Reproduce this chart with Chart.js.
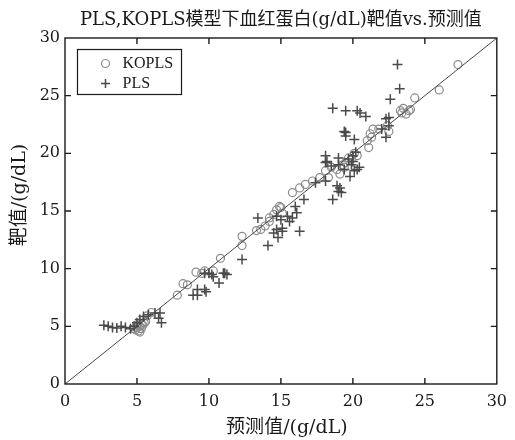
<!DOCTYPE html>
<html lang="zh">
<head>
<meta charset="UTF-8">
<title>PLS, KOPLS 血红蛋白</title>
<style>
    html, body { margin: 0; padding: 0; background: #fff; }
    canvas { display: block; }
</style>
<script src="https://cdn.jsdelivr.net/npm/chart.js"></script>
</head>
<body>
<canvas id="chart" width="515" height="440"></canvas>
<script>
// values
const koplsX = [4.8, 4.9, 5.0, 5.0, 5.1, 5.2, 5.2, 5.3, 5.3, 5.4, 5.5, 5.6, 5.7, 6.0, 7.8, 8.2, 8.5, 9.1, 9.5, 9.7,
    10.3, 10.8, 12.3, 12.3, 13.3, 13.6, 13.9, 14.2, 14.2, 14.5, 14.7, 14.9, 15.0, 15.1, 15.8, 16.3, 16.7, 17.2, 17.7, 18.3,
    18.9, 19.3, 19.7, 20.1, 19.5, 19.9, 20.3, 21.0, 21.1, 21.3, 21.2, 21.4, 22.5, 21.8, 22.4, 23.3, 23.4, 23.5, 23.9, 24.0,
    24.3, 26.0, 27.3, 18.1, 18.5, 19.1, 19.4, 23.7];
const koplsY = [4.8, 4.7, 4.9, 5.1, 4.6, 5.0, 4.5, 4.8, 5.2, 5.1, 5.3, 5.4, 5.9, 6.2, 7.7, 8.7, 8.6, 9.7, 9.6, 9.8,
    9.8, 10.9, 12.8, 12.0, 13.3, 13.4, 13.7, 14.1, 14.4, 14.7, 15.1, 15.4, 15.3, 14.8, 16.6, 17.0, 17.3, 17.6, 17.9, 17.9,
    18.6, 19.0, 19.6, 20.0, 19.2, 19.5, 19.8, 21.1, 20.5, 21.4, 21.7, 22.1, 21.9, 22.1, 22.4, 23.7, 23.5, 23.9, 23.7, 23.8,
    24.8, 25.5, 27.7, 18.5, 18.8, 18.2, 18.8, 23.4];

const plsX = [2.7, 3.0, 3.3, 3.6, 3.9, 4.2, 4.55, 4.8, 5.0, 5.2, 5.45, 5.8, 6.25, 6.6, 6.5, 6.7, 8.9, 9.2, 9.2, 9.7,
    9.8, 9.7, 10.0, 10.2, 10.3, 10.7, 11.0, 11.1, 11.25, 12.3, 14.1, 14.5, 13.4, 14.8, 14.7, 15.1, 15.1, 16.3, 15.6, 15.8,
    15.45, 16.1, 15.0, 14.7, 16.0, 16.6, 17.4, 18.1, 18.6, 18.9, 19.0, 19.2, 19.1, 18.1, 18.1, 18.2, 18.5, 19.0, 19.4, 19.9,
    19.8, 20.1, 20.45, 20.3, 20.0, 20.2, 19.0, 19.7, 20.0, 19.4, 19.5, 19.5, 20.1, 22.0, 22.3, 22.5, 22.3, 22.5, 18.6, 19.5,
    20.3, 20.5, 20.9, 22.6, 23.25, 23.1];
const plsY = [5.1, 5.0, 4.9, 4.85, 5.0, 4.9, 4.8, 5.0, 5.3, 5.6, 5.85, 6.0, 6.15, 6.15, 5.7, 5.3, 7.7, 7.7, 8.2, 8.2,
    8.0, 9.6, 9.6, 9.5, 9.3, 8.75, 9.6, 9.6, 9.5, 10.8, 12.0, 13.1, 14.4, 12.7, 13.4, 13.5, 13.25, 13.25, 14.1, 14.4,
    14.55, 14.85, 14.25, 14.55, 15.4, 16.0, 17.45, 17.6, 16.0, 17.2, 16.7, 16.6, 17.0, 19.8, 19.2, 19.3, 18.9, 19.0, 18.6, 19.0,
    18.0, 18.5, 18.8, 18.6, 19.8, 20.1, 19.6, 19.5, 19.3, 21.9, 21.8, 21.5, 21.2, 22.1, 23.0, 22.4, 21.4, 23.1, 23.9, 23.7,
    23.7, 23.5, 23.2, 24.7, 25.6, 27.7];

// y = x reference line
const diagX = [0, 30];
const diagY = [0, 30];

const axisMin = 0;
const axisMax = 30;
const axisStep = 5;

const seriesNames = ['KOPLS', 'PLS'];
const titleText = 'PLS,KOPLS模型下血红蛋白(g/dL)靶值vs.预测值';
const xTitle = '预测值/(g/dL)';
const yTitle = '靶值/(g/dL)';

const serif = "'DejaVu Serif', 'Noto Sans CJK SC', serif";
const ink = '#1a1a1a';
const circleColor = '#8c8c8c';
const plusColor = '#4a4a4a';

function toPoints(xs, ys) {
    return xs.map((x, i) => ({ x: x, y: ys[i] }));
}

// box round the plot with inward ticks on all four sides
const framePlugin = {
    id: 'frame',
    afterDatasetsDraw(chart) {
        const ctx = chart.ctx;
        const a = chart.chartArea;
        const xs = chart.scales.x, ys = chart.scales.y;
        const len = 6;
        ctx.save();
        ctx.strokeStyle = ink;
        ctx.lineWidth = 1.4;
        ctx.strokeRect(a.left, a.top, a.right - a.left, a.bottom - a.top);
        ctx.beginPath();
        for (let v = axisMin + axisStep; v < axisMax; v += axisStep) {
            const px = xs.getPixelForValue(v);
            ctx.moveTo(px, a.bottom); ctx.lineTo(px, a.bottom - len);
            ctx.moveTo(px, a.top); ctx.lineTo(px, a.top + len);
            const py = ys.getPixelForValue(v);
            ctx.moveTo(a.left, py); ctx.lineTo(a.left + len, py);
            ctx.moveTo(a.right, py); ctx.lineTo(a.right - len, py);
        }
        ctx.stroke();
        ctx.restore();
    }
};

// legend box in the upper left corner of the plot
const legendPlugin = {
    id: 'boxLegend',
    afterDraw(chart) {
        const ctx = chart.ctx;
        const a = chart.chartArea;
        const bx = Math.round(a.left + 12) + 0.5;
        const by = Math.round(a.top + 11) + 0.5;
        const mx = bx + 28;
        const tx = bx + 45;
        ctx.save();
        ctx.fillStyle = '#fff';
        ctx.fillRect(bx, by, 104, 45);
        ctx.strokeStyle = ink;
        ctx.lineWidth = 1.2;
        ctx.strokeRect(bx, by, 104, 45);

        ctx.strokeStyle = circleColor;
        ctx.lineWidth = 1.2;
        ctx.beginPath();
        ctx.arc(mx, by + 14, 4, 0, Math.PI * 2);
        ctx.stroke();

        ctx.strokeStyle = plusColor;
        ctx.lineWidth = 1.5;
        ctx.beginPath();
        ctx.moveTo(mx - 4.5, by + 34); ctx.lineTo(mx + 4.5, by + 34);
        ctx.moveTo(mx, by + 29.5); ctx.lineTo(mx, by + 38.5);
        ctx.stroke();

        ctx.fillStyle = ink;
        ctx.font = "16px 'Liberation Serif', serif";
        ctx.textBaseline = 'middle';
        ctx.fillText(seriesNames[0], tx, by + 14);
        ctx.fillText(seriesNames[1], tx, by + 34);
        ctx.restore();
    }
};

// chart title and axis titles, centred on the plot area like the reference
const textPlugin = {
    id: 'titles',
    afterDraw(chart) {
        const ctx = chart.ctx;
        const a = chart.chartArea;
        const cx = (a.left + a.right) / 2;
        ctx.save();
        ctx.fillStyle = ink;
        ctx.textAlign = 'center';
        ctx.textBaseline = 'middle';
        ctx.font = '18px ' + serif;
        ctx.fillText(titleText, cx, 20);
        ctx.font = '19px ' + serif;
        ctx.fillText(xTitle, cx + 6, 428);
        ctx.translate(20, 195);
        ctx.rotate(-Math.PI / 2);
        ctx.fillText(yTitle, 0, 0);
        ctx.restore();
    }
};

const ctx = document.getElementById('chart').getContext('2d');
const chart = new Chart(ctx, {
    type: 'scatter',
    data: {
        datasets: [
            {
                type: 'line',
                label: 'y = x',
                data: toPoints(diagX, diagY),
                borderColor: '#4a4a4a',
                borderWidth: 1,
                pointRadius: 0,
                fill: false,
                order: 0
            },
            {
                label: seriesNames[1],
                data: toPoints(plsX, plsY),
                pointStyle: 'cross',
                pointRadius: 5,
                borderColor: plusColor,
                borderWidth: 1.5,
                backgroundColor: plusColor,
                order: 1
            },
            {
                label: seriesNames[0],
                data: toPoints(koplsX, koplsY),
                pointStyle: 'circle',
                pointRadius: 4,
                borderColor: circleColor,
                borderWidth: 1.2,
                backgroundColor: 'rgba(0,0,0,0)',
                order: 2
            }
        ]
    },
    options: {
        responsive: false,
        animation: false,
        devicePixelRatio: 1,
        layout: { padding: { left: 0, right: 0, top: 38, bottom: 0 } },
        plugins: {
            legend: { display: false },
            tooltip: { enabled: false },
            title: { display: false }
        },
        scales: {
            x: {
                type: 'linear',
                min: axisMin,
                max: axisMax,
                grid: { display: false, drawTicks: false },
                border: { display: false },
                ticks: {
                    stepSize: axisStep,
                    padding: 8,
                    color: ink,
                    font: { family: serif, size: 16 }
                },
                afterFit(scale) { scale.height = 56; }
            },
            y: {
                type: 'linear',
                min: axisMin,
                max: axisMax,
                grid: { display: false, drawTicks: false },
                border: { display: false },
                ticks: {
                    stepSize: axisStep,
                    padding: 5,
                    color: ink,
                    font: { family: serif, size: 16 }
                },
                afterFit(scale) { scale.width = 65; }
            }
        }
    },
    plugins: [framePlugin, legendPlugin, textPlugin]
});
</script>
</body>
</html>
